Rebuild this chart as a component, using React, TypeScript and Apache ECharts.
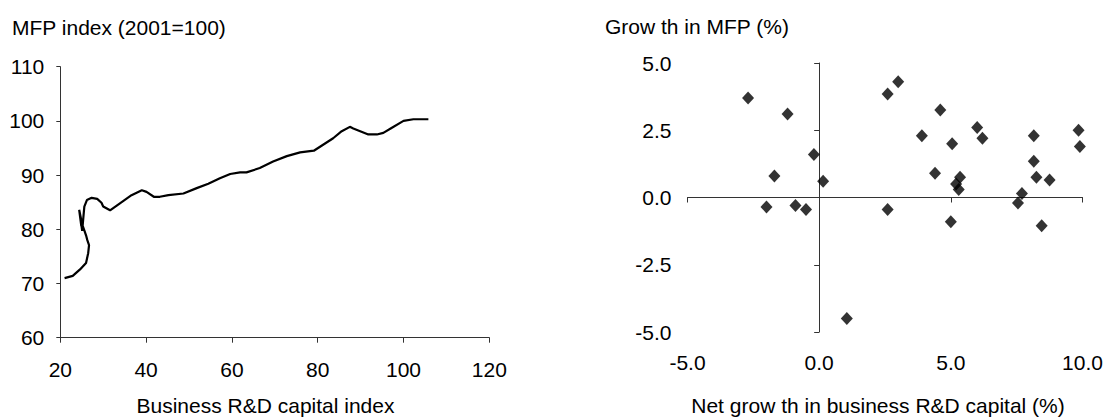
import React, { useEffect, useRef } from "react";
import * as echarts from "echarts";

// Left panel: business R&D capital index vs MFP index (connected path, in time order)
const rdCapitalIndex = [
  21.0, 22.9, 24.6, 26.0, 26.5, 26.7, 26.3, 26.0, 25.6, 25.1, 24.4, 24.9, 24.6, 25.1, 25.3,
  25.6, 26.2, 27.3, 28.6, 29.6, 30.0, 31.6, 33.9, 36.6, 39.0, 40.1, 41.8, 43.2, 45.2, 48.7,
  51.8, 54.5, 57.2, 59.6, 61.9, 63.4, 66.5, 69.6, 72.8, 75.9, 79.1, 83.6, 85.6, 87.5, 88.3,
  91.8, 93.8, 95.3, 97.2, 100.0, 102.3, 105.8,
];
const mfpIndex = [
  71.0, 71.4, 72.6, 73.8, 75.6, 77.1, 78.0, 78.9, 79.8, 80.9, 83.6, 80.6, 82.6, 79.7, 81.5,
  84.2, 85.4, 85.8, 85.6, 84.9, 84.2, 83.5, 84.8, 86.3, 87.2, 86.9, 86.0, 86.0, 86.3, 86.6,
  87.6, 88.4, 89.4, 90.2, 90.5, 90.5, 91.3, 92.5, 93.5, 94.2, 94.5, 96.8, 98.1, 98.9, 98.6,
  97.5, 97.5, 97.8, 98.7, 100.0, 100.3, 100.3,
];

// Right panel: net growth in business R&D capital (%) vs growth in MFP (%)
const rdGrowth = [
  -2.7, -1.2, -0.2, -1.7, 0.15, -2.0, -0.9, -0.5, 2.6, 1.05, 2.6, 3.0, 4.6, 3.9, 5.05, 6.0,
  6.2, 4.4, 5.35, 5.2, 5.3, 5.0, 8.15, 8.15, 8.25, 8.75, 7.7, 7.55, 8.45, 9.85, 9.9,
];
const mfpGrowth = [
  3.7, 3.1, 1.6, 0.8, 0.6, -0.35, -0.3, -0.45, -0.45, -4.5, 3.85, 4.3, 3.25, 2.3, 2.0, 2.6,
  2.2, 0.9, 0.75, 0.5, 0.3, -0.9, 2.3, 1.35, 0.75, 0.65, 0.15, -0.2, -1.05, 2.5, 1.9,
];

const leftTitle = "MFP index (2001=100)";
const leftXTitle = "Business R&D capital index";
const rightTitle = "Grow th in MFP (%)";
const rightXTitle = "Net grow th in business R&D capital (%)";

const FONT = "'Liberation Sans', Arial, sans-serif";
const AXIS_COLOR = "#333333";

export default function App() {
  const ref = useRef<HTMLDivElement>(null);

  useEffect(() => {
    if (!ref.current) return;
    const chart = echarts.init(ref.current, undefined, { renderer: "svg" });

    const linePath = rdCapitalIndex.map((x, i) => [x, mfpIndex[i]]);
    const scatterPts = rdGrowth.map((x, i) => [x, mfpGrowth[i]]);

    const labelStyle = { color: "#000", fontSize: 21, fontFamily: FONT };
    const fmt1 = (v: number) => v.toFixed(1);

    const rightGrid = { left: 687.5, top: 63, width: 395, height: 269 };

    chart.setOption({
      animation: false,
      grid: [
        { left: 60.3, top: 66.7, width: 429, height: 271, containLabel: false },
        { ...rightGrid, containLabel: false },
        { ...rightGrid, containLabel: false },
      ],
      xAxis: [
        {
          gridIndex: 0,
          type: "value",
          min: 20,
          max: 120,
          interval: 20,
          axisLine: { show: true, onZero: false, lineStyle: { color: AXIS_COLOR, width: 1 } },
          axisTick: { show: true, length: 5, lineStyle: { color: AXIS_COLOR } },
          axisLabel: { ...labelStyle, margin: 21 },
          splitLine: { show: false },
        },
        {
          gridIndex: 1,
          type: "value",
          min: -5,
          max: 10,
          interval: 5,
          axisLine: { show: true, onZero: true, lineStyle: { color: AXIS_COLOR, width: 1 } },
          axisTick: { show: true, length: 5, lineStyle: { color: AXIS_COLOR } },
          axisLabel: { show: false },
          splitLine: { show: false },
        },
        {
          gridIndex: 2,
          type: "value",
          min: -5,
          max: 10,
          interval: 5,
          axisLine: { show: false, onZero: false },
          axisTick: { show: false },
          axisLabel: { ...labelStyle, margin: 20, formatter: fmt1 },
          splitLine: { show: false },
        },
      ],
      yAxis: [
        {
          gridIndex: 0,
          type: "value",
          min: 60,
          max: 110,
          interval: 10,
          axisLine: { show: true, onZero: false, lineStyle: { color: AXIS_COLOR, width: 1 } },
          axisTick: { show: true, length: 4, lineStyle: { color: AXIS_COLOR } },
          axisLabel: { ...labelStyle, margin: 16 },
          splitLine: { show: false },
        },
        {
          gridIndex: 1,
          type: "value",
          min: -5,
          max: 5,
          interval: 2.5,
          axisLine: { show: true, onZero: true, lineStyle: { color: AXIS_COLOR, width: 1 } },
          axisTick: { show: true, length: 5, lineStyle: { color: AXIS_COLOR } },
          axisLabel: { show: false },
          splitLine: { show: false },
        },
        {
          gridIndex: 2,
          type: "value",
          min: -5,
          max: 5,
          interval: 2.5,
          axisLine: { show: false, onZero: false },
          axisTick: { show: false },
          axisLabel: { ...labelStyle, margin: 16, formatter: fmt1 },
          splitLine: { show: false },
        },
      ],
      series: [
        {
          type: "line",
          xAxisIndex: 0,
          yAxisIndex: 0,
          data: linePath,
          showSymbol: false,
          symbol: "none",
          smooth: false,
          lineStyle: { color: "#000", width: 2.2 },
        },
        {
          type: "scatter",
          xAxisIndex: 1,
          yAxisIndex: 1,
          data: scatterPts,
          symbol: "diamond",
          symbolSize: [12, 13],
          itemStyle: { color: "#000" },
        },
      ],
      graphic: [
        {
          type: "text",
          x: 12,
          y: 27,
          style: { text: leftTitle, fontSize: 21, fontFamily: FONT, fill: "#000", align: "left", verticalAlign: "middle" },
        },
        {
          type: "text",
          x: 605,
          y: 26,
          style: { text: rightTitle, fontSize: 21, fontFamily: FONT, fill: "#000", align: "left", verticalAlign: "middle" },
        },
        {
          type: "text",
          x: 265.5,
          y: 405,
          style: { text: leftXTitle, fontSize: 21, fontFamily: FONT, fill: "#000", align: "center", verticalAlign: "middle" },
        },
        {
          type: "text",
          x: 878,
          y: 405,
          style: { text: rightXTitle, fontSize: 21, fontFamily: FONT, fill: "#000", align: "center", verticalAlign: "middle" },
        },
      ],
    });

    return () => {
      chart.dispose();
    };
  }, []);

  return (
    <div
      ref={ref}
      style={{ position: "absolute", left: 0, top: 0, width: 1107, height: 418, background: "#fff" }}
    />
  );
}
